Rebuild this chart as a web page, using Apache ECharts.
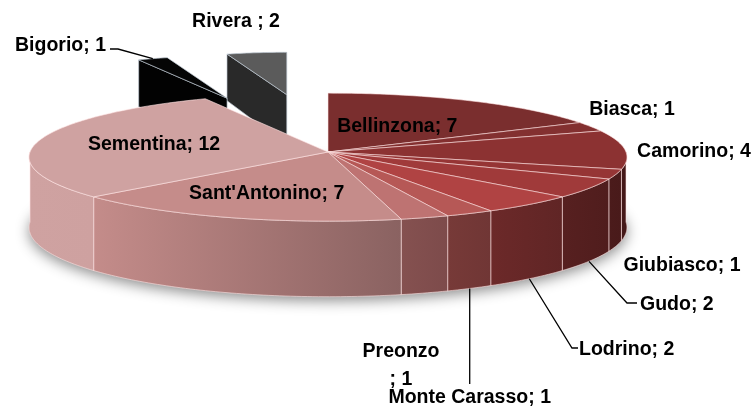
<!DOCTYPE html>
<html><head><meta charset="utf-8">
<script src="https://cdn.jsdelivr.net/npm/echarts@6/dist/echarts.min.js"></script>
<style>html,body{margin:0;padding:0;background:#fff}#c{width:756px;height:411px}</style>
</head><body><div id="c"></div>
<script>
// ---- data ----
const names = ['Bellinzona','Biasca','Camorino','Giubiasco','Gudo','Lodrino','Monte Carasso','Preonzo',"Sant'Antonino",'Sementina','Bigorio','Rivera '];
const values = [7,1,4,1,2,2,1,1,7,12,1,2];

// ---- styles ----
const topColors = ['#7a2e2e','#833030','#8c3232','#963535','#a03a3a','#b04343','#b65856','#be7372','#c58c8a','#cfa2a1','#050505','#5b5b5b'];

// ---- layout ----
const G = {cx:328, cy:152, rx:298, ry:64, h:70, p:0.08, explodeDist:270, explodeScale:0.72};
const explodedNames = ['Bigorio','Rivera '];
const FONT = 'bold 19.5px "Liberation Sans"';
const labelLayout = {
  'Bellinzona': {inside:0.47},
  'Sementina': {inside:0.6},
  "Sant'Antonino": {inside:0.65},
  'Biasca': {x:632, y:110},
  'Camorino': {x:694, y:152},
  'Giubiasco': {x:682, y:266},
  'Gudo': {x:640, y:305, align:'left', leader:[[627,303],[637,303]]},
  'Lodrino': {x:579, y:350, align:'left', leader:[[572,348],[578,348]]},
  'Monte Carasso': {vertical:true, toY:384, y:398},
  'Preonzo': {x:401, y:366, wrap:true},
  'Bigorio': {x:106, y:46, align:'right', fromTop:true, leader:[[118,49],[110,49]]},
  'Rivera ': {x:236, y:22}
};

const DEG = Math.PI/180;
const total = values.reduce((a,b)=>a+b,0);
const starts = []; (function(){let acc=0; values.forEach(v=>{starts.push(acc); acc+=v;});})();
const ang = u => u/total*2*Math.PI;

function frame(i){
  const a0=ang(starts[i]), a1=ang(starts[i]+values[i]), m=(a0+a1)/2;
  if(explodedNames.indexOf(names[i])<0) return {a0,a1,m,bx:G.cx,by:G.cy,s:1,ex:false};
  return {a0,a1,m,ex:true,s:G.explodeScale,
    bx:G.cx+G.explodeDist*Math.sin(m),
    by:G.cy-G.explodeDist*(G.ry/G.rx)*Math.cos(m)};
}
function P(fr, th, r, hh){
  const u=r*Math.sin(th), v=-r*Math.cos(th), f=1+G.p*v;
  return [fr.bx + fr.s*G.rx*u*f, fr.by + fr.s*(G.ry*v + hh)*f];
}
function arc(fr, a, b, hh){
  const n=Math.max(2,Math.ceil(Math.abs(b-a)/DEG)); const pts=[];
  for(let k=0;k<=n;k++) pts.push(P(fr, a+(b-a)*k/n, 1, hh));
  return pts;
}
function hex2rgb(h){h=h.replace('#','');return [0,2,4].map(k=>parseInt(h.substr(k,2),16));}
function shade(h,f){const c=hex2rgb(h).map(x=>Math.max(0,Math.min(255,Math.round(x*f))));return 'rgb('+c.join(',')+')';}
function lightF(x){const t=Math.max(0,Math.min(1,(x-90)/540));return 1-0.52*t;}

const EDGE = 'rgba(255,228,228,0.75)';

function renderItem(params, api){
  const i=params.dataIndex, fr=frame(i), base=topColors[i], h=G.h;
  const children=[];
  const v=-Math.cos(fr.m);
  const zb = fr.ex ? Math.round((v+1)*50)*3 : 200;
  const edge = fr.ex ? 'rgba(190,200,210,0.85)' : EDGE;
  if(i===0){
    children.push({type:'polygon', z2:150, shape:{points:arc(fr,0,2*Math.PI,h)},
      style:{fill:'#a0a0a0', shadowBlur:14, shadowColor:'rgba(0,0,0,0.45)', shadowOffsetY:4}});
  }
  const faceCol = fr.ex ? shade(base,0.45) : shade(base,0.6);
  if(Math.sin(fr.a0) < -1e-6){
    children.push({type:'polygon', z2:zb, shape:{points:[P(fr,0,0,0),P(fr,fr.a0,1,0),P(fr,fr.a0,1,h),P(fr,0,0,h)]},
      style:{fill:faceCol, stroke:edge, lineWidth:0.8}});
  }
  if(Math.sin(fr.a1) > 1e-6){
    children.push({type:'polygon', z2:zb, shape:{points:[P(fr,0,0,0),P(fr,fr.a1,1,0),P(fr,fr.a1,1,h),P(fr,0,0,h)]},
      style:{fill:faceCol, stroke:edge, lineWidth:0.8}});
  }
  const s=Math.max(fr.a0,Math.PI/2), e=Math.min(fr.a1,1.5*Math.PI);
  if(e>s){
    const pts=arc(fr,s,e,0).concat(arc(fr,e,s,h));
    let xmin=Infinity,xmax=-Infinity; pts.forEach(p=>{xmin=Math.min(xmin,p[0]);xmax=Math.max(xmax,p[0]);});
    children.push({type:'polygon', z2:zb+1, shape:{points:pts},
      style:{fill:{type:'linear',x:xmin,y:0,x2:xmax+0.01,y2:0,global:true,
        colorStops:[{offset:0,color:shade(base,lightF(xmin))},{offset:1,color:shade(base,lightF(xmax))}]},
        stroke:edge, lineWidth:0.8}});
  }
  const topPts=[P(fr,0,0,0)].concat(arc(fr,fr.a0,fr.a1,0));
  children.push({type:'polygon', z2:zb+2, shape:{points:topPts},
    style:{fill:base, stroke:edge, lineWidth:0.8}});

  const L=labelLayout[names[i]]||{};
  let txt=names[i]+'; '+api.value(0);
  if(L.wrap) txt=names[i]+'\n; '+api.value(0);
  let lx, ly, align='center';
  if(L.inside!==undefined){ const q=P(fr,fr.m,L.inside,0); lx=q[0]; ly=q[1]; }
  else if(L.vertical){
    const st=P(fr,fr.m,1,h); lx=st[0]; ly=L.y;
    children.push({type:'polyline', z2:299, shape:{points:[st,[st[0],L.toY]]}, style:{stroke:'#000',lineWidth:1.3,fill:null}});
  } else {
    lx=L.x; ly=L.y; align=L.align||'center';
    if(L.leader){
      const st = L.fromTop ? P(fr,fr.m,1,0) : P(fr,fr.m,1,h);
      children.push({type:'polyline', z2:299, shape:{points:[st].concat(L.leader)}, style:{stroke:'#000',lineWidth:1.3,fill:null}});
    }
  }
  children.push({type:'text', z2:300, style:{text:txt, x:lx, y:ly, align:align, verticalAlign:'middle',
    font:FONT, fill:'#000', lineHeight:28}});
  return {type:'group', children};
}

const chart = echarts.init(document.getElementById('c'), null, {renderer:'canvas'});
chart.setOption({
  backgroundColor:'#ffffff',
  animation:false,
  series:[{type:'custom', coordinateSystem:'none', silent:true, renderItem,
    data: values.map((v,i)=>({name:names[i], value:[v]}))}]
});
</script></body></html>
